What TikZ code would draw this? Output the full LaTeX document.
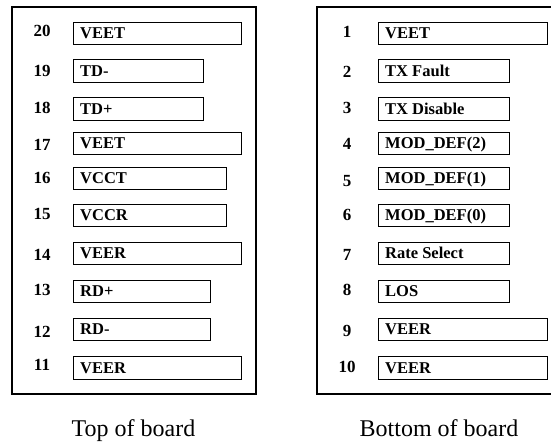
\documentclass[tikz,border=0pt]{standalone}
\usepackage{fontspec}
\setmainfont{Liberation Serif}
\usetikzlibrary{calc}
\begin{document}
\begin{tikzpicture}[x=1pt,y=-1pt,
  pinbox/.style={draw=black,line width=1.1pt,rectangle,inner sep=0pt,minimum height=22.7pt,anchor=west},
  lab/.style={inner sep=0pt,anchor=base west,font=\fontsize{16.5}{19}\selectfont\bfseries},
  num/.style={inner sep=0pt,anchor=center,font=\fontsize{17}{19}\selectfont\bfseries},
  captxt/.style={inner sep=0pt,anchor=base,font=\fontsize{24}{28}\selectfont},
  frame/.style={draw=black,line width=1.1pt}]
\useasboundingbox (0,0) rectangle (551,443);
% outer frames
\draw[frame] (12,7) rectangle (256,394);
\draw[frame] (551,7) -- (317,7) -- (317,394) -- (551,394);
% left panel
\foreach \n/\txt/\w/\yc/\ny in {20/VEET/168/33.5/31, 19/TD-/130/71.2/71, 18/TD+/130/109/108, 17/VEET/168/143.5/145, 16/VCCT/153/178.5/178, 15/VCCR/153/215.5/214, 14/VEER/168/253.5/255, 13/RD+/137/291.5/290, 12/RD-/137/329.5/332, 11/VEER/168/368/365}{
  \node[pinbox,minimum width=\w pt] (b\n) at (73,\yc) {};
  \node[lab] (t\n) at ($(b\n.west)+(7,5.3)$) {\txt};
  \node[num] (n\n) at (42,\ny) {\n};
}
% right panel
\foreach \n/\txt/\w/\yc/\ny in {1/VEET/169/33.5/32, 2/TX Fault/131/71.2/72, 3/TX Disable/131/109/108, 4/MOD\_DEF(2)/131/143.5/144, 5/MOD\_DEF(1)/131/178.5/181, 6/MOD\_DEF(0)/131/215.5/215, 7/Rate Select/131/253.5/255, 8/LOS/131/291.5/290, 9/VEER/169/329.5/331, 10/VEER/169/368/367}{
  \node[pinbox,minimum width=\w pt] (b\n) at (378,\yc) {};
  \node[lab] (t\n) at ($(b\n.west)+(7,5.3)$) {\txt};
  \node[num] (n\n) at (347,\ny) {\n};
}
\node[captxt] (captop) at (133.5,436.7) {Top of board};
\node[captxt] (capbot) at (439,436.7) {Bottom of board};
\end{tikzpicture}
\end{document}
